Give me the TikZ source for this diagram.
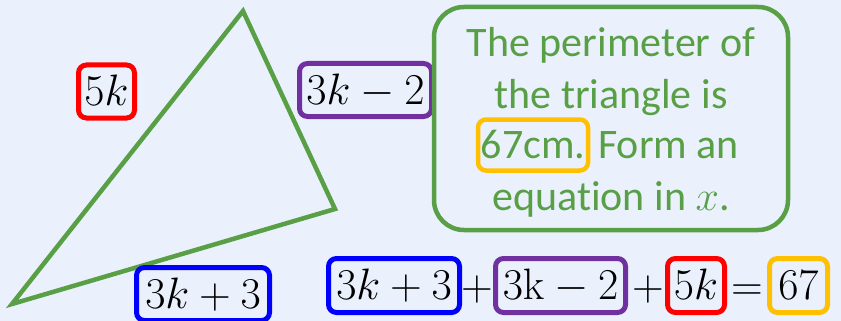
\documentclass[tikz,border=0pt]{standalone}
\usepackage{fix-cm}
\usepackage[no-math]{fontspec}
\setmainfont[Ligatures=NoCommon]{Carlito}
\definecolor{bg}{RGB}{234,241,252}
\definecolor{grn}{RGB}{88,159,70}
\definecolor{pur}{RGB}{112,48,160}
\definecolor{org}{RGB}{255,192,0}
\definecolor{blu}{RGB}{0,0,255}
\definecolor{rd}{RGB}{255,0,0}
\newcommand\mathsz{\fontsize{44}{50}\selectfont}
\newcommand\txtsz{\fontsize{42}{51}\selectfont}
\begin{document}
\begin{tikzpicture}[x=1pt,y=-1pt,
  lbl/.style={draw, line width=5pt, rounded corners=8pt, inner sep=0pt,
    font=\mathsz, text height=30pt, text depth=2pt, minimum height=53pt},
  op/.style={font=\mathsz, anchor=base, inner sep=0pt},
  gtxt/.style={font=\txtsz, text=grn, anchor=base, inner sep=0pt},
  tri/.style={draw=grn, line width=4.5pt, line join=miter}]
\useasboundingbox[fill=bg] (0,0) rectangle (841,321);
% triangle
\coordinate (A) at (243,11);
\coordinate (B) at (335,209);
\coordinate (C) at (12,304);
\draw[tri] (A) -- (B) -- (C) -- cycle;
% side labels
\node[lbl, draw=rd, minimum width=56pt] (l5k) at (106.5,91.5) {$5k$};
\node[lbl, draw=pur, minimum width=132pt] (l3km2) at (365.5,90) {$3k-2$};
\node[lbl, draw=blu, minimum width=133pt] (l3kp3) at (203,294) {$3k+3$};
% question box
\node[draw=grn, line width=4.5pt, rounded corners=30pt, minimum width=354pt,
  minimum height=223pt, inner sep=0pt] (qbox) at (611,118.5) {};
\node[gtxt] (q1) at (611,57) {The perimeter of};
\node[gtxt] (q2) at (611,108) {the triangle is};
\node[draw=org, line width=4.5pt, rounded corners=8pt, inner sep=0pt,
  font=\txtsz, text=grn, minimum width=110pt, minimum height=51pt,
  text height=27pt, text depth=0pt] (q3a) at (533,145) {67cm.};
\node[gtxt, anchor=base west] (q3b) at (598,158) {Form an};
\node[gtxt] (q4) at (611,210) {equation in $x$.};
% equation
\node[lbl, draw=blu, minimum width=131pt, minimum height=54pt] (e1) at (394,285.5) {$3k+3$};
\node[op] (p1) at (477,300) {$+$};
\node[lbl, draw=pur, minimum width=130pt, minimum height=54pt] (e2) at (560.5,285.5) {$3\mathrm{k}-2$};
\node[op] (p2) at (648,300) {$+$};
\node[lbl, draw=rd, minimum width=57pt, minimum height=54pt] (e3) at (696,285.5) {$5k$};
\node[op] (eq) at (747,300) {$=$};
\node[lbl, draw=org, minimum width=58pt, minimum height=54pt] (e4) at (798.5,285.5) {$67$};
\end{tikzpicture}
\end{document}
